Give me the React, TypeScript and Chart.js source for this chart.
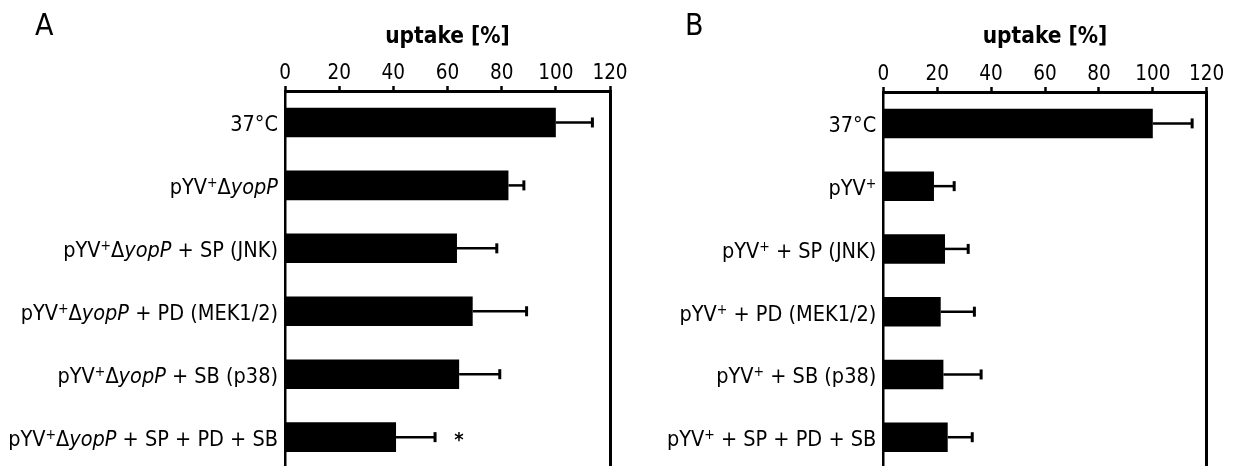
import React, { useEffect, useRef } from 'react';
import { Chart, registerables } from 'chart.js';

Chart.register(...registerables);

const FONT = '"DejaVu Sans Condensed", "DejaVu Sans", sans-serif';

// Panel A
const categoriesA = [
  '37°C',
  'pYV⁺ΔyopP',
  'pYV⁺ΔyopP + SP (JNK)',
  'pYV⁺ΔyopP + PD (MEK1/2)',
  'pYV⁺ΔyopP + SB (p38)',
  'pYV⁺ΔyopP + SP + PD + SB',
];
const uptakeA = [100, 82.5, 63.5, 69.3, 64.3, 41];
const errorA = [13.5, 5.7, 14.7, 19.9, 15, 14.4];
const marksA = ['', '', '', '', '', '*'];

// Panel B
const categoriesB = [
  '37°C',
  'pYV⁺',
  'pYV⁺ + SP (JNK)',
  'pYV⁺ + PD (MEK1/2)',
  'pYV⁺ + SB (p38)',
  'pYV⁺ + SP + PD + SB',
];
const uptakeB = [100, 18.8, 22.9, 21.3, 22.3, 23.9];
const errorB = [14.6, 7.5, 8.6, 12.5, 14, 9.1];
const marksB = ['', '', '', '', '', ''];

const xMin = 0;
const xMax = 120;
const xStep = 20;
const axisTitle = 'uptake [%]';

type Seg = { t: string; kind: 'n' | 'i' | 's' };
function splitLabel(label: string): Seg[] {
  return label
    .split(/(⁺|yopP)/)
    .filter((s) => s.length > 0)
    .map((t) => (t === '⁺' ? { t: '+', kind: 's' } : t === 'yopP' ? { t, kind: 'i' } : { t, kind: 'n' })) as Seg[];
}

type PanelProps = {
  letter: string;
  categories: string[];
  values: number[];
  errors: number[];
  marks: string[];
  left: number;
  width: number;
  height: number;
  plotLeft: number;
  plotRight: number;
  plotTop: number;
  plotBottom: number;
  letterX: number;
};

const LABEL_SIZE = 21.5;

function Panel(p: PanelProps) {
  const ref = useRef<HTMLCanvasElement | null>(null);
  useEffect(() => {
    const fontFor = (k: string) =>
      k === 'i'
        ? `italic ${LABEL_SIZE}px ${FONT}`
        : k === 's'
        ? `14px ${FONT}`
        : `${LABEL_SIZE}px ${FONT}`;
    const decor = {
      id: 'decor',
      afterDatasetsDraw(chart: any) {
        const { ctx } = chart;
        const xs = chart.scales.x;
        const ys = chart.scales.y;
        ctx.save();
        ctx.strokeStyle = '#000';
        p.values.forEach((v, i) => {
          const y = ys.getPixelForValue(i);
          const x0 = xs.getPixelForValue(v);
          const x1 = xs.getPixelForValue(v + p.errors[i]);
          ctx.lineWidth = 2.5;
          ctx.beginPath();
          ctx.moveTo(x0, y);
          ctx.lineTo(x1, y);
          ctx.stroke();
          ctx.lineWidth = 3;
          ctx.beginPath();
          ctx.moveTo(x1, y - 5);
          ctx.lineTo(x1, y + 5);
          ctx.stroke();
          if (p.marks[i]) {
            ctx.fillStyle = '#000';
            ctx.font = `bold 20px ${FONT}`;
            ctx.textAlign = 'center';
            ctx.textBaseline = 'alphabetic';
            ctx.fillText(p.marks[i], x1 + 24, y + 9);
          }
        });
        ctx.restore();
      },
      afterDraw(chart: any) {
        const { ctx } = chart;
        const ys = chart.scales.y;
        const left = chart.chartArea.left;
        ctx.save();
        ctx.fillStyle = '#000';
        ctx.textAlign = 'left';
        ctx.textBaseline = 'alphabetic';
        p.categories.forEach((lab, i) => {
          const segs = splitLabel(lab);
          let total = 0;
          segs.forEach((s) => {
            ctx.font = fontFor(s.kind);
            total += ctx.measureText(s.t).width;
          });
          let x = left - 7 - total;
          const y = ys.getPixelForValue(i) + 9;
          segs.forEach((s) => {
            ctx.font = fontFor(s.kind);
            ctx.fillText(s.t, x, s.kind === 's' ? y - 7 : y);
            x += ctx.measureText(s.t).width;
          });
        });
        ctx.font = `30px ${FONT}`;
        ctx.fillText(p.letter, p.letterX, 35);
        ctx.restore();
      },
    };

    const chart = new Chart(ref.current as HTMLCanvasElement, {
      type: 'bar',
      data: {
        labels: p.categories,
        datasets: [
          {
            data: p.values,
            backgroundColor: '#000',
            borderWidth: 0,
            categoryPercentage: 1,
            barPercentage: 0.47,
          },
        ],
      },
      options: {
        indexAxis: 'y',
        responsive: false,
        animation: false,
        devicePixelRatio: 1,
        layout: { padding: { left: 0, right: 0, top: 0, bottom: p.height - p.plotBottom } },
        plugins: { legend: { display: false }, tooltip: { enabled: false } },
        scales: {
          x: {
            type: 'linear',
            position: 'top',
            min: xMin,
            max: xMax,
            ticks: { stepSize: xStep, color: '#000', font: { family: FONT, size: 20.5 }, padding: 0 },
            grid: { drawOnChartArea: false, drawTicks: true, tickLength: 5, tickWidth: 2.5, color: '#000' },
            border: { display: true, width: 3, color: '#000' },
            title: {
              display: true,
              text: axisTitle,
              color: '#000',
              font: { family: FONT, size: 22.5, weight: 'bold' },
              padding: { top: 24, bottom: 0 },
            },
            afterFit: (s: any) => {
              s.height = p.plotTop;
              s.paddingLeft = 0;
              s.paddingRight = 0;
            },
          },
          y: {
            type: 'category',
            position: 'left',
            ticks: { display: false },
            grid: { display: false },
            border: { display: true, width: 2.5, color: '#000' },
            afterFit: (s: any) => {
              s.width = p.plotLeft;
              s.paddingTop = 0;
              s.paddingBottom = 0;
            },
          },
          y2: {
            type: 'category',
            position: 'right',
            labels: p.categories,
            ticks: { display: false },
            grid: { display: false },
            border: { display: true, width: 3, color: '#000' },
            afterFit: (s: any) => {
              s.width = p.width - p.plotRight;
              s.paddingTop = 0;
              s.paddingBottom = 0;
            },
          },
        },
      } as any,
      plugins: [decor],
    });
    let alive = true;
    const fonts = (document as any).fonts;
    if (fonts && fonts.load) {
      Promise.all([
        fonts.load(`20px ${FONT}`),
        fonts.load(`bold 20px ${FONT}`),
        fonts.load(`italic 20px ${FONT}`),
      ])
        .then(() => {
          if (alive) chart.update('none');
        })
        .catch(() => {});
    }
    return () => {
      alive = false;
      chart.destroy();
    };
  }, []);
  return (
    <canvas
      ref={ref}
      width={p.width}
      height={p.height}
      style={{ position: 'absolute', left: p.left, top: 0, width: p.width, height: p.height }}
    />
  );
}

export default function App() {
  return (
    <div
      style={{
        position: 'fixed',
        left: 0,
        top: 0,
        width: 1235,
        height: 466,
        overflow: 'hidden',
        background: '#fff',
      }}
    >
      <Panel
        letter="A"
        categories={categoriesA}
        values={uptakeA}
        errors={errorA}
        marks={marksA}
        left={0}
        width={650}
        height={472}
        plotLeft={285}
        plotRight={610}
        plotTop={91}
        plotBottom={468.6}
        letterX={35}
      />
      <Panel
        letter="B"
        categories={categoriesB}
        values={uptakeB}
        errors={errorB}
        marks={marksB}
        left={620}
        width={615}
        height={472}
        plotLeft={263.3}
        plotRight={586.7}
        plotTop={92}
        plotBottom={468.6}
        letterX={65}
      />
    </div>
  );
}
